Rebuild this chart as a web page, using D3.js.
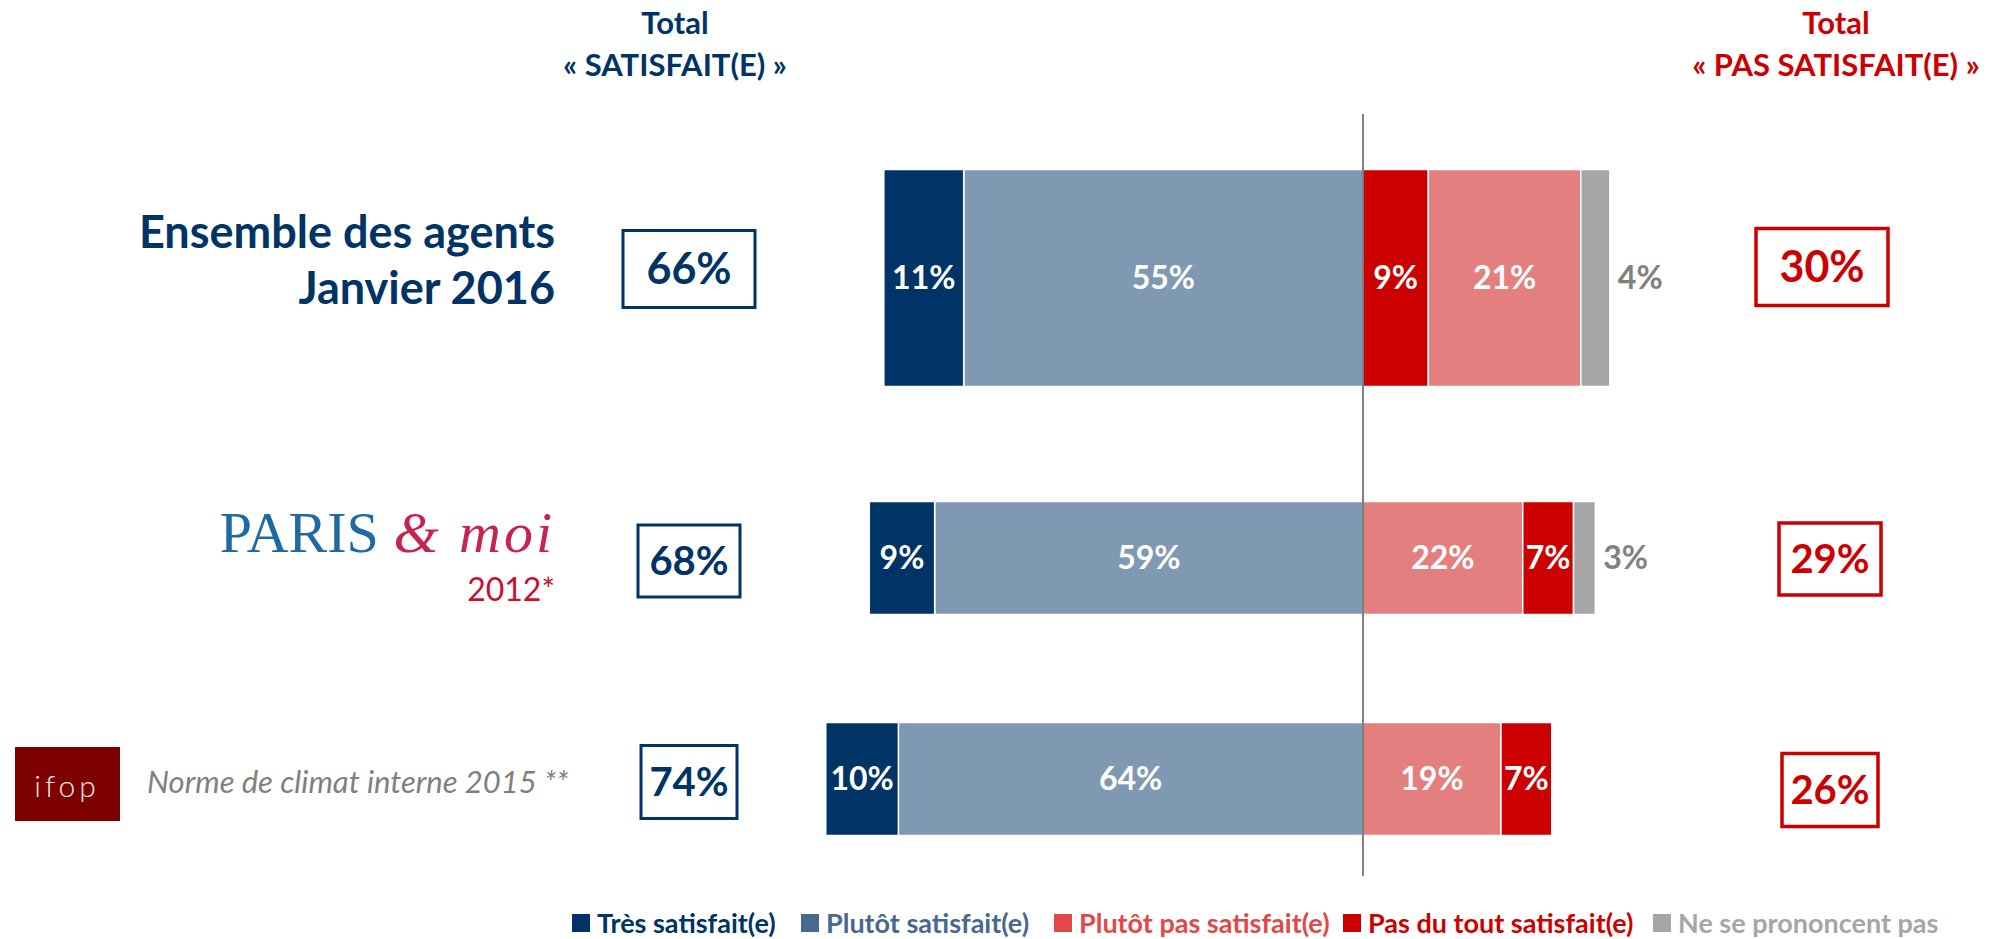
<!DOCTYPE html>
<html>
<head>
<meta charset="utf-8">
<style>
  body { margin: 0; background: #fff; }
  svg text { font-family: Lato, "Open Sans", sans-serif; }
</style>
</head>
<body>
<script src="https://d3js.org/d3.v7.min.js"></script>
<script>

// ---- data ----
var rows = ["Ensemble des agents Janvier 2016", "PARIS & moi 2012*", "Norme de climat interne 2015 **"];
var tresSatisfait = [11, 9, 10],
    plutotSatisfait = [55, 59, 64],
    plutotPasSatisfait = [21, 22, 19],
    pasDuToutSatisfait = [9, 7, 7],
    nePrononcentPas = [4, 3, 0];
var totalSatisfait = [66, 68, 74],
    totalPasSatisfait = [30, 29, 26];
// order of the right-hand segments, from the centre outward (differs by row in the original)
var rightOrder = [
  ["pasDuTout", "plutotPas", "nsp"],
  ["plutotPas", "pasDuTout", "nsp"],
  ["plutotPas", "pasDuTout", "nsp"]
];
var legendLabels = ["Très satisfait(e)", "Plutôt satisfait(e)", "Plutôt pas satisfait(e)", "Pas du tout satisfait(e)", "Ne se prononcent pas"];

// ---- styles ----
var navy = '#003366',
    steel = '#7f99b2',
    steelDark = '#47698f',
    pinkRed = '#e47f7f',
    pinkRedDark = '#e24848',
    red = '#cc0000',
    grey = '#a6a6a6',
    greyText = '#808080';

var series = {
  tres:      { values: tresSatisfait,      fill: navy },
  plutot:    { values: plutotSatisfait,    fill: steel },
  plutotPas: { values: plutotPasSatisfait, fill: pinkRed },
  pasDuTout: { values: pasDuToutSatisfait, fill: red },
  nsp:       { values: nePrononcentPas,    fill: grey }
};
var legendKeys = ["tres", "plutot", "plutotPas", "pasDuTout", "nsp"],
    legendColors = [navy, steelDark, pinkRedDark, red, grey],
    legendX = [572, 801, 1054, 1343, 1653];

// ---- layout ----
var width = 1998,
    height = 939,
    centerX = 1363,
    rowCenter = [278, 558, 779],
    barH = [217, 113, 113],
    boxW = [132, 102, 96],
    boxH = [77, 72, 73],
    boxFont = [43, 40, 40],
    leftBoxX = 689,
    rightBoxX = [1822, 1830, 1830],
    leftBoxY = [269, 561, 782],
    rightBoxY = [267, 559, 790];

var svg = d3.select('body').append('svg')
    .attr('width', width)
    .attr('height', height);

var x = d3.scaleLinear()
    .domain([-100, 100])
    .range([centerX - 726, centerX + 726]);

// headers
function header(cx, color, l1, l2) {
  var g = svg.append('g').attr('fill', color).attr('font-weight', 700)
      .attr('font-size', 31).attr('text-anchor', 'middle');
  g.append('text').attr('x', cx).attr('y', 34).text(l1);
  g.append('text').attr('x', cx).attr('y', 76).text(l2);
}
header(675, navy, 'Total', '« SATISFAIT(E) »');
header(1836, red, 'Total', '« PAS SATISFAIT(E) »');

// bars
rows.forEach(function(r, i) {
  var segs = [];
  // left side, centre outward
  var acc = 0;
  ["plutot", "tres"].forEach(function(k) {
    var v = series[k].values[i];
    segs.push({ key: k, x0: -(acc + v), x1: -acc, v: v });
    acc += v;
  });
  acc = 0;
  rightOrder[i].forEach(function(k) {
    var v = series[k].values[i];
    if (v > 0) segs.push({ key: k, x0: acc, x1: acc + v, v: v });
    acc += v;
  });

  var y0 = rowCenter[i] - barH[i] / 2;
  var g = svg.append('g');

  g.selectAll('rect').data(segs).enter().append('rect')
      .attr('x', function(d) { return x(d.x0); })
      .attr('width', function(d) { return x(d.x1) - x(d.x0); })
      .attr('y', y0)
      .attr('height', barH[i])
      .attr('fill', function(d) { return series[d.key].fill; })
      .attr('stroke', '#fff')
      .attr('stroke-width', 1.5);

  g.selectAll('text').data(segs).enter().append('text')
      .attr('x', function(d) { return d.key === 'nsp' ? x(d.x1) + 8 : (x(d.x0) + x(d.x1)) / 2; })
      .attr('y', rowCenter[i] + 11)
      .attr('text-anchor', function(d) { return d.key === 'nsp' ? 'start' : 'middle'; })
      .attr('font-size', 32)
      .attr('font-weight', 700)
      .attr('fill', function(d) { return d.key === 'nsp' ? greyText : '#fff'; })
      .text(function(d) { return d.v + '%'; });

  // total boxes
  function box(cx, cy, color, sw, val) {
    svg.append('rect')
        .attr('x', cx - boxW[i] / 2).attr('y', cy - boxH[i] / 2)
        .attr('width', boxW[i]).attr('height', boxH[i])
        .attr('fill', '#fff').attr('stroke', color).attr('stroke-width', sw);
    svg.append('text')
        .attr('x', cx).attr('y', cy + boxFont[i] * 0.36)
        .attr('text-anchor', 'middle').attr('font-weight', 700)
        .attr('font-size', boxFont[i]).attr('fill', color)
        .text(val + '%');
  }
  box(leftBoxX, leftBoxY[i], navy, 3, totalSatisfait[i]);
  box(rightBoxX[i], rightBoxY[i], red, 3.5, totalPasSatisfait[i]);
});

// centre line
svg.append('line')
    .attr('x1', x(0)).attr('x2', x(0))
    .attr('y1', 114).attr('y2', 876)
    .attr('stroke', '#595959').attr('stroke-width', 1.5);

// row labels
var lab1 = svg.append('g').attr('fill', navy).attr('font-weight', 700)
    .attr('font-size', 45).attr('text-anchor', 'end');
lab1.append('text').attr('x', 555).attr('y', 248).text('Ensemble des agents');
lab1.append('text').attr('x', 555).attr('y', 304).text('Janvier 2016');

// PARIS & moi
var logo = svg.append('text').attr('x', 555).attr('y', 552).attr('text-anchor', 'end');
logo.append('tspan').attr('fill', '#1f6aa1')
    .style('font-family', '"Liberation Serif", "DejaVu Serif", serif')
    .attr('font-size', 58).text('PARIS ');
logo.append('tspan').attr('fill', '#c8234e')
    .style('font-family', '"Liberation Serif", "DejaVu Serif", serif')
    .attr('font-style', 'italic').attr('font-size', 58)
    .attr('letter-spacing', 3).text('& moi');
svg.append('text').attr('x', 555).attr('y', 601).attr('text-anchor', 'end')
    .attr('fill', '#c8102e').attr('font-size', 32).text('2012*');

// ifop
svg.append('rect').attr('x', 15).attr('y', 747).attr('width', 105).attr('height', 74).attr('fill', '#7d0000');
svg.append('text').attr('x', 67).attr('y', 797).attr('text-anchor', 'middle')
    .attr('fill', '#f3e6e6').attr('font-size', 30).attr('font-weight', 300)
    .attr('letter-spacing', 4).text('ifop');
svg.append('text').attr('x', 147).attr('y', 793)
    .attr('fill', greyText).attr('font-size', 31).attr('font-style', 'italic')
    .text('Norme de climat interne 2015 **');

// legend
var leg = svg.append('g').selectAll('g').data(legendKeys).enter().append('g')
    .attr('transform', function(d, i) { return 'translate(' + legendX[i] + ',0)'; });
leg.append('rect').attr('x', 0).attr('y', 914).attr('width', 18).attr('height', 18)
    .attr('fill', function(d, i) { return legendColors[i]; });
leg.append('text').attr('x', 25).attr('y', 933)
    .attr('font-size', 27).attr('font-weight', 700)
    .attr('fill', function(d, i) { return legendColors[i]; })
    .text(function(d, i) { return legendLabels[i]; });

</script>
</body>
</html>
